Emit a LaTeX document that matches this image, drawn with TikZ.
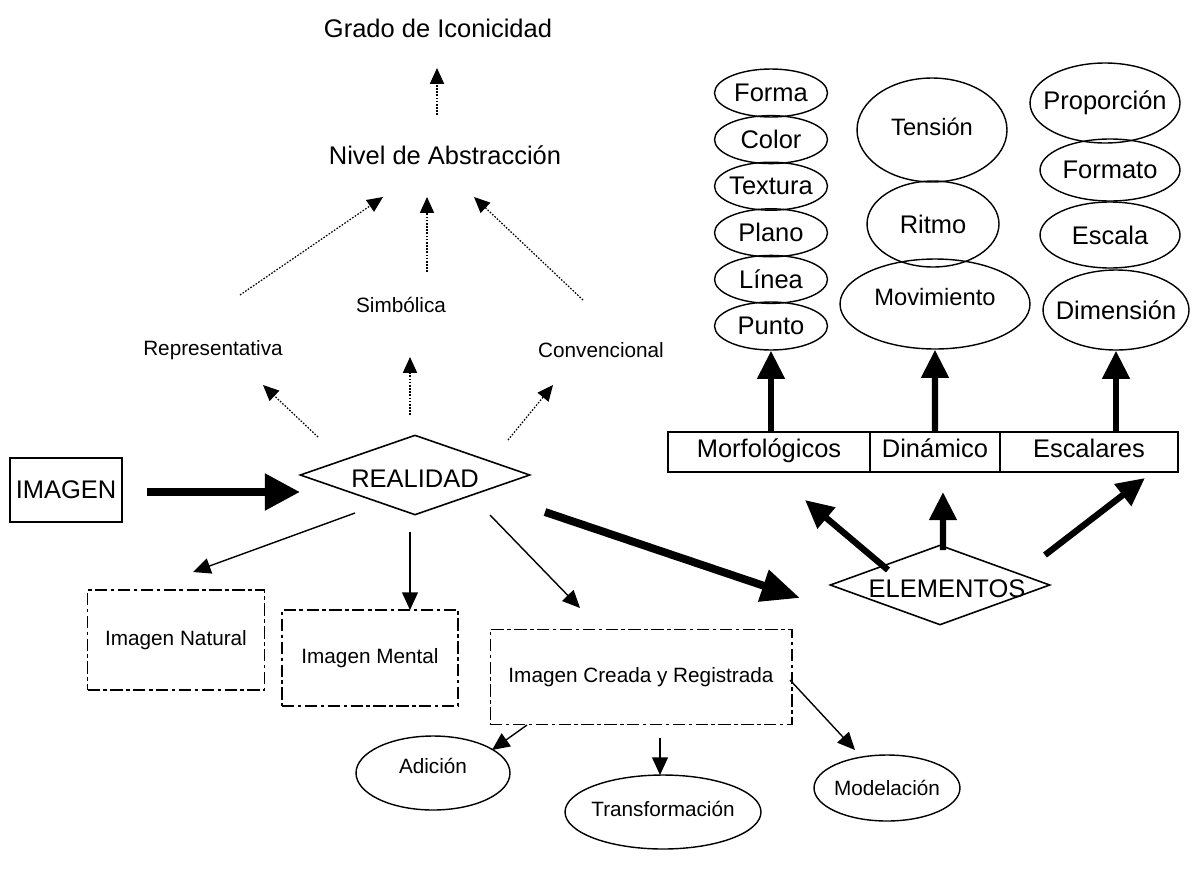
\documentclass[tikz,border=0pt]{standalone}
\usepackage{fontspec}
\setmainfont{Liberation Sans}
\usetikzlibrary{arrows.meta, shapes.geometric, positioning}

\begin{document}
\begin{tikzpicture}[x=0.02cm, y=-0.02cm,
    big/.style={font=\fontsize{14.5}{17}\selectfont},
    mid/.style={font=\fontsize{13.5}{16}\selectfont},
    small/.style={font=\fontsize{11.8}{14}\selectfont},
    oval/.style={draw, ellipse, line width=0.8pt, inner sep=0pt},
    rhomb/.style={draw, diamond, line width=0.9pt, inner sep=0pt},
    cell/.style={draw, rectangle, line width=1pt, outer sep=0pt, minimum height=0.8cm, text height=1.6ex, text depth=0.4ex, big},
    frame/.style={draw, rectangle, line width=0.6pt, dash pattern=on 7pt off 2pt on 2pt off 2pt, small},
    dotarr/.style={line width=0.7pt, dash pattern=on 0.9pt off 0.9pt, -{Triangle[length=9pt,width=8pt]}},
    arr/.style={line width=0.8pt, -{Triangle[length=10pt,width=9pt]}},
    fatarr/.style={line width=3.6pt, -{Triangle[length=16pt,width=15pt]}}]
\useasboundingbox (0,0) rectangle (1195,872);

\node[big] (grado) at (438,28) {Grado de Iconicidad};
\node[big] (nivel) at (445,155) {Nivel de Abstracción};
\node[small] (simb) at (401,305) {Simbólica};
\node[small] (repr) at (213,350) {Representativa};
\node[small] (conv) at (601,350) {Convencional};

\node[draw, line width=0.8pt, big, inner sep=2pt, minimum width=2.24cm, minimum height=1.28cm] (imagen) at (66,490) {IMAGEN};
\node[rhomb, minimum width=4.6cm, minimum height=1.6cm, label={[big,yshift=-2pt]center:REALIDAD}] (real) at (415,475) {};
\node[rhomb, minimum width=4.4cm, minimum height=1.6cm, label={[big,xshift=4pt,yshift=-2pt]center:ELEMENTOS}] (elem) at (940,585) {};

\node[frame, minimum width=3.54cm, minimum height=2cm] (nat) at (176,640) {Imagen Natural};
\node[frame, minimum width=3.52cm, minimum height=1.92cm] (mental) at (370,658) {Imagen Mental};
\node[frame, minimum width=6.04cm, minimum height=1.9cm] (creada) at (641,677) {Imagen Creada y Registrada};

\node[oval, minimum width=3.08cm, minimum height=1.48cm, label={[small,yshift=4pt]center:Adición}] (adic) at (433,773) {};
\node[oval, minimum width=3.92cm, minimum height=1.48cm, label={[small,yshift=2pt]center:Transformación}] (transf) at (663,812) {};
\node[oval, minimum width=2.92cm, minimum height=1.32cm, label={[small]center:Modelación}] (model) at (887,788) {};

\node[cell, minimum width=4.04cm] (morf) at (769,452) {Morfológicos};
\node[cell, minimum width=2.6cm, right=0pt of morf] (din) {Dinámico};
\node[cell, minimum width=3.56cm, right=0pt of din] (esc) {Escalares};

\foreach \nm/\txt [count=\i] in {forma/Forma, color/Color, textura/Textura, plano/Plano, linea/Línea, punto/Punto}
  \node[oval, minimum width=2.26cm, minimum height=0.96cm, label={[big]center:\txt}] (\nm) at (771,46.4+46.6*\i) {};

\node[oval, minimum width=3cm, minimum height=2.08cm, label={[mid,yshift=2pt]center:Tensión}] (tension) at (932,130) {};
\node[oval, minimum width=2.64cm, minimum height=1.72cm, label={[big]center:Ritmo}] (ritmo) at (933,224) {};
\node[oval, minimum width=3.8cm, minimum height=1.8cm, label={[mid,yshift=4pt]center:Movimiento}] (mov) at (935,304) {};

\node[oval, minimum width=3cm, minimum height=1.6cm, label={[big]center:Proporción}] (prop) at (1105,103) {};
\node[oval, minimum width=2.8cm, minimum height=1.24cm, label={[big]center:Formato}] (formato) at (1110,170) {};
\node[oval, minimum width=2.8cm, minimum height=1.32cm, label={[big]center:Escala}] (escala) at (1110,235) {};
\node[oval, minimum width=2.92cm, minimum height=1.6cm, label={[big]center:Dimensión}] (dim) at (1116,310) {};

\draw[dotarr] ([shift={(-8,-40)}]nivel.center) -- ([shift={(-1,40)}]grado.center);
\draw[dotarr] ([shift={(27,-55)}]repr.center) -- ([shift={(-62,42)}]nivel.center);
\draw[dotarr] ([shift={(26,-33)}]simb.center) -- ([shift={(-18,42)}]nivel.center);
\draw[dotarr] ([shift={(-18,-50)}]conv.center) -- ([shift={(29,42)}]nivel.center);
\draw[dotarr] ([shift={(-97,-38)}]real.center) -- ([shift={(50,35)}]repr.center);
\draw[dotarr] ([shift={(-5,-60)}]real.center) -- ([shift={(9,52)}]simb.center);
\draw[dotarr] ([shift={(93,-35)}]real.center) -- ([shift={(-48,35)}]conv.center);

\draw[line width=4.5pt, -{Triangle[length=20pt,width=20pt]}] ([shift={(81,2)}]imagen.center) -- ([shift={(-115,17)}]real.center);
\draw[line width=4.5pt, -{Triangle[length=22pt,width=18pt]}] ([shift={(130,37)}]real.center) -- ([shift={(-140,13)}]elem.center);

\draw[arr] ([shift={(-60,38)}]real.center) -- ([shift={(17,-68)}]nat.center);
\draw[arr] ([shift={(-5,57)}]real.center) -- ([shift={(40,-48)}]mental.center);
\draw[arr] ([shift={(75,40)}]real.center) -- ([shift={(-61,-69)}]creada.center);
\draw[arr] ([shift={(-114,48)}]creada.center) -- ([shift={(59,-23)}]adic.center);
\draw[arr] ([shift={(19,61)}]creada.center) -- ([shift={(-3,-37)}]transf.center);
\draw[arr] ([shift={(149,3)}]creada.center) -- ([shift={(-32,-38)}]model.center);

\draw[fatarr] ([shift={(-52,-15)}]elem.center) -- ([shift={(36,48)}]morf.center);
\draw[fatarr] ([shift={(3,-35)}]elem.center) -- ([shift={(8,40)}]din.center);
\draw[fatarr] ([shift={(105,-30)}]elem.center) -- ([shift={(56,26)}]esc.center);
\draw[fatarr] (morf.north -| punto) -- (punto.south);
\draw[fatarr] (din.north) -- (mov.south);
\draw[fatarr] (esc.north -| dim) -- (dim.south);
\end{tikzpicture}
\end{document}
